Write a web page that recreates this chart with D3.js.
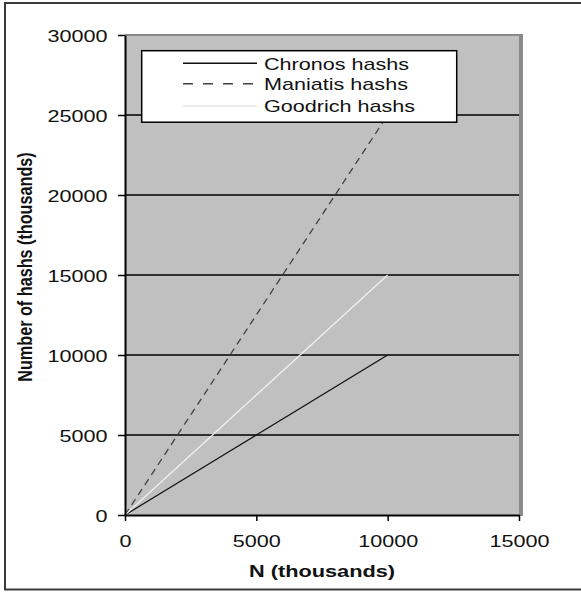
<!DOCTYPE html>
<html>
<head>
<meta charset="utf-8">
<script src="https://cdn.jsdelivr.net/npm/d3@7/dist/d3.min.js"></script>
<style>
  html, body { margin: 0; padding: 0; background: #fff; }
  svg { display: block; }
  text { font-family: "Liberation Sans", Arial, sans-serif; fill: #111; }
</style>
</head>
<body>
<script>
// ---- data ----
const nValues = [0, 1000, 2000, 3000, 4000, 5000, 6000, 7000, 8000, 9000, 10000];
const chronos = [0, 1000, 2000, 3000, 4000, 5000, 6000, 7000, 8000, 9000, 10000];
const maniatis = [0, 2500, 5000, 7500, 10000, 12500, 15000, 17500, 20000, 22500, 25000];
const goodrich = [0, 1500, 3000, 4500, 6000, 7500, 9000, 10500, 12000, 13500, 15000];
const seriesNames = ["Chronos hashs", "Maniatis hashs", "Goodrich hashs"];
const xTicks = [0, 5000, 10000, 15000];
const yTicks = [0, 5000, 10000, 15000, 20000, 25000, 30000];
const gridValues = [5000, 10000, 15000, 20000, 25000];

const W = 581, H = 593;
const SX = 1.27; // horizontal stretch of the text in the reference

const svg = d3.select("body").append("svg").attr("width", W).attr("height", H);

const x = d3.scaleLinear().domain([0, 15000]).range([125, 519]);
const y = d3.scaleLinear().domain([0, 30000]).range([515, 35]);

// outer border
svg.append("rect").attr("x", 5).attr("y", 3).attr("width", 590).attr("height", 586.5)
  .attr("fill", "#fff").attr("stroke", "#3a3a3a").attr("stroke-width", 2);

// plot area
svg.append("rect").attr("x", x(0)).attr("y", y(30000)).attr("width", x(15000) - x(0)).attr("height", y(0) - y(30000))
  .attr("fill", "#c0c0c0");
// plot area border (top + right shadow)
svg.append("line").attr("x1", x(0)).attr("x2", x(15000) + 4).attr("y1", y(30000)).attr("y2", y(30000))
  .attr("stroke", "#8a8a8a").attr("stroke-width", 2);
svg.append("line").attr("x1", x(15000) + 2).attr("x2", x(15000) + 2).attr("y1", y(30000) - 1).attr("y2", y(0) + 1)
  .attr("stroke", "#8a8a8a").attr("stroke-width", 4);

// gridlines
svg.append("g").selectAll("line").data(gridValues).join("line")
  .attr("x1", x(0)).attr("x2", x(15000)).attr("y1", d => y(d)).attr("y2", d => y(d))
  .attr("stroke", "#000").attr("stroke-width", 1.6);

// series lines
const pts = arr => nValues.map((n, i) => [n, arr[i]]);
const line = d3.line().x(d => x(d[0])).y(d => y(d[1]));
const seriesStyles = [
  { data: chronos, stroke: "#111", width: 1.3, dash: null },
  { data: maniatis, stroke: "#404040", width: 1.3, dash: "7,5" },
  { data: goodrich, stroke: "#f2f2f2", width: 1.2, dash: null }
];
seriesStyles.forEach(s => {
  svg.append("path").attr("d", line(pts(s.data))).attr("fill", "none")
    .attr("stroke", s.stroke).attr("stroke-width", s.width)
    .attr("stroke-dasharray", s.dash);
});

// axes
const yAxis = svg.append("g").attr("transform", `translate(${x(0)},0)`)
  .call(d3.axisLeft(y).tickValues(yTicks).tickSizeInner(7).tickSizeOuter(0).tickFormat(d3.format("d")));
yAxis.select(".domain").attr("stroke", "#000").attr("stroke-width", 2);
yAxis.selectAll(".tick line").attr("stroke", "#000").attr("stroke-width", 1.5);
yAxis.selectAll(".tick text")
  .attr("x", null).attr("dy", null).attr("y", null)
  .attr("font-size", 17).attr("text-anchor", "end")
  .attr("fill", "#111")
  .attr("transform", `translate(-17.5,6.2) scale(${SX},1)`);

const xAxis = svg.append("g").attr("transform", `translate(0,${y(0)})`)
  .call(d3.axisBottom(x).tickValues(xTicks).tickSizeInner(6).tickSizeOuter(0).tickFormat(d3.format("d")));
xAxis.select(".domain").attr("stroke", "#000").attr("stroke-width", 2);
xAxis.selectAll(".tick line").attr("stroke", "#000").attr("stroke-width", 1.5);
xAxis.selectAll(".tick text")
  .attr("x", null).attr("dy", null).attr("y", null)
  .attr("font-size", 17).attr("text-anchor", "middle")
  .attr("fill", "#111")
  .attr("transform", `translate(0,32.3) scale(${SX},1)`);

// axis titles
svg.append("text").attr("text-anchor", "middle").attr("font-size", 17).attr("font-weight", "bold")
  .attr("transform", `translate(${(x(0) + x(15000)) / 2},577.3) scale(1.28,1)`)
  .text("N (thousands)");
svg.append("text").attr("text-anchor", "middle").attr("font-size", 16.2).attr("font-weight", "bold")
  .attr("transform", `translate(32,267) scale(1.22,1) rotate(-90)`)
  .text("Number of hashs (thousands)");

// legend
const lg = svg.append("g");
lg.append("rect").attr("x", 141.7).attr("y", 50.7).attr("width", 315).attr("height", 71.5)
  .attr("fill", "#fff").attr("stroke", "#000").attr("stroke-width", 1.5);
const legendLineY = [63.3, 83.8, 106];
const legendTextY = [69.5, 90, 111.7];
seriesStyles.forEach((s, i) => {
  lg.append("line").attr("x1", 183).attr("x2", 257).attr("y1", legendLineY[i]).attr("y2", legendLineY[i])
    .attr("stroke", i === 2 ? "#e6e6e6" : s.stroke).attr("stroke-width", 1.4)
    .attr("stroke-dasharray", s.dash ? "10,10" : null);
  lg.append("text").attr("font-size", 17)
    .attr("transform", `translate(264,${legendTextY[i]}) scale(${SX},1)`)
    .text(seriesNames[i]);
});
</script>
</body>
</html>
